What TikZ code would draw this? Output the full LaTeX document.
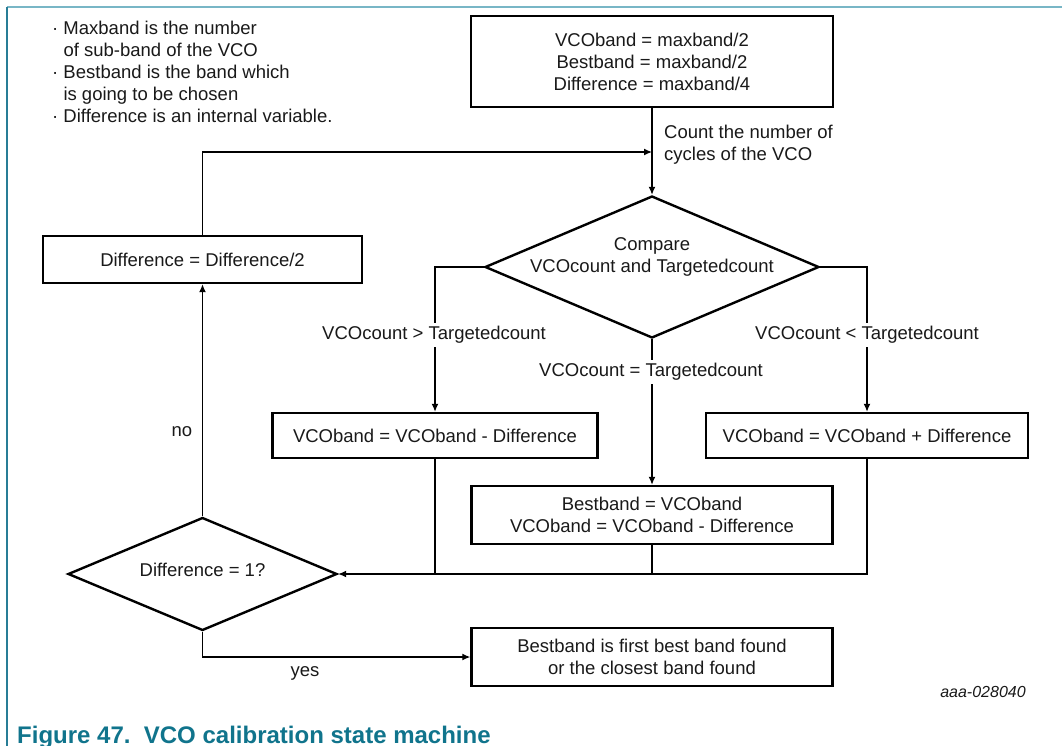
\documentclass[tikz,border=0pt]{standalone}
\usepackage{fontspec}
\setmainfont{Liberation Sans}
\usetikzlibrary{shapes.geometric,arrows.meta}
\definecolor{capcol}{RGB}{16,116,140}
\definecolor{leftcol}{RGB}{40,125,150}
\definecolor{topcol}{RGB}{120,182,198}
\tikzset{
  x=1pt,y=-1pt,
  txt/.style={font=\fontsize{18.5}{22}\selectfont, inner sep=0pt, align=center, text=black!90},
  lbl/.style={txt, fill=white, inner xsep=1pt, inner ysep=3pt},
  box/.style={txt, draw, line width=2.4pt},
  dia/.style={draw, diamond, line width=2.4pt, inner sep=0pt},
  conn/.style={line width=1.3pt},
  arr/.style={conn, -{Latex[length=8pt,width=7pt]}},
}
\begin{document}
\begin{tikzpicture}
\useasboundingbox (0,0) rectangle (1062,746);
% frame
\draw[topcol, line width=1.6pt] (7,7) -- (1062,7);
\draw[leftcol, line width=1.6pt] (7,7) -- (7,746);

% notes
\node[txt, align=left, anchor=north west, font=\fontsize{18.5}{22}\selectfont] (notes) at (52,21)
  {· Maxband is the number\\ \phantom{·}\ of sub-band of the VCO\\ · Bestband is the band which\\ \phantom{·}\ is going to be chosen\\ · Difference is an internal variable.};

% boxes
\node[box, minimum width=362, minimum height=91] (init) at (652,61.5)
  {VCOband = maxband/2\\ Bestband = maxband/2\\ Difference = maxband/4};
\node[dia, minimum width=334, minimum height=142] (cmp) at (652,267) {};
\node[txt] (cmptxt) at (652,257) {Compare\\ VCOcount and Targetedcount};
\node[box, minimum width=319, minimum height=47] (diff) at (202.5,259.5) {Difference = Difference/2};
\node[box, minimum width=325, minimum height=45] (lbox) at (435,435.5) {VCOband = VCOband - Difference};
\node[box, minimum width=322, minimum height=45] (rbox) at (867,435.5) {VCOband = VCOband + Difference};
\node[box, minimum width=361, minimum height=58] (mbox) at (652,515) {Bestband = VCOband\\ VCOband = VCOband - Difference};
\node[dia, minimum width=269, minimum height=113] (dchk) at (202.5,574) {};
\node[txt] (dchktxt) at (202.5,570) {Difference = 1?};
\node[box, minimum width=361, minimum height=58] (fin) at (652,657) {Bestband is first best band found\\ or the closest band found};

% connectors
\coordinate (fb) at (652,152);
\draw[arr] (init.south) -- (cmp.north);
\draw[arr] (diff.north) |- (fb);
\draw[arr] (cmp.west) -| (lbox.north);
\draw[arr] (cmp.east) -| (rbox.north);
\draw[arr] (cmp.south) -- (mbox.north);
\draw[conn] (lbox.south) -- (lbox.south |- dchk.east);
\draw[conn] (mbox.south) -- (mbox.south |- dchk.east);
\draw[arr] (rbox.south) |- (dchk.east);
\draw[arr] (dchk.north) -- (diff.south);
\draw[arr] (dchk.south) |- (fin.west);

% labels
\node[txt, align=left, anchor=west] (cntlbl) at (664,145) {Count the number of\\ cycles of the VCO};
\node[lbl] (gtlbl) at (434,335) {VCOcount > Targetedcount};
\node[lbl] (ltlbl) at (867,335) {VCOcount < Targetedcount};
\node[lbl] (eqlbl) at (651,372) {VCOcount = Targetedcount};
\node[txt] (nolbl) at (182,432) {no};
\node[txt] (yeslbl) at (305,673) {yes};

% id and caption
\node[txt, font=\fontsize{16}{18}\selectfont\itshape] (docid) at (983,692) {aaa-028040};
\node[inner sep=0pt, anchor=base west, text=capcol, font=\fontsize{24}{28}\selectfont\bfseries] (caption) at (17,743)
  {Figure 47.\ \ VCO calibration state machine};
\end{tikzpicture}
\end{document}
